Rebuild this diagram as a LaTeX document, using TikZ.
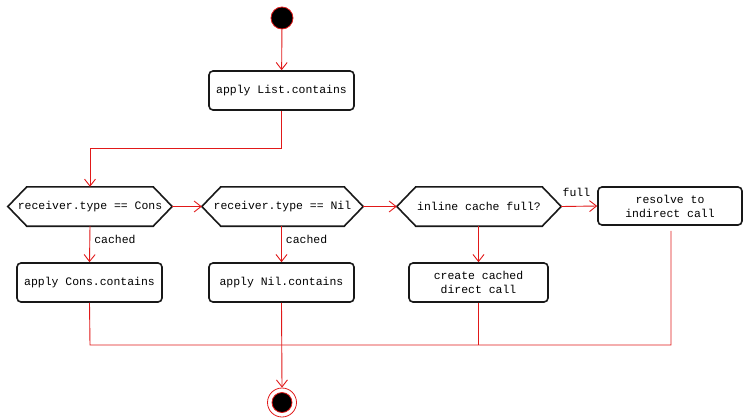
\documentclass[tikz,border=0pt]{standalone}
\usepackage{fontspec}
\setmonofont{Liberation Mono}
\usetikzlibrary{arrows.meta}
\definecolor{lnred}{RGB}{225,25,25}
\definecolor{boxline}{RGB}{24,24,24}
\tikzset{
  every node/.style={font=\ttfamily\fontsize{11.5}{14}\selectfont, text=black},
  actbox/.style={draw=boxline, line width=1.6bp, rounded corners=4bp, fill=white,
    inner sep=0pt, align=center},
  hexlbl/.style={inner sep=0pt, align=center},
  hexline/.style={draw=boxline, line width=1.6bp, fill=white},
  conn/.style={draw=lnred, line width=0.9bp},
  arr/.style={conn, -{Straight Barb[length=7bp,width=11bp,line width=0.9bp]}},
  lbl/.style={inner sep=0pt}
}
\begin{document}
\begin{tikzpicture}[x=1bp,y=-1bp]
\useasboundingbox (0,0) rectangle (746,417);

% start
\node[circle, fill=black, draw=lnred, line width=0.8bp, minimum size=22bp, inner sep=0pt] (start) at (282,18) {};

% boxes
\node[actbox, minimum width=145bp, minimum height=39bp] (list) at (281.5,90.5) {apply List.contains};
\node[actbox, minimum width=145bp, minimum height=39bp] (cons) at (89.5,282.5) {apply Cons.contains};
\node[actbox, minimum width=145bp, minimum height=39bp] (nil) at (281.5,282.5) {apply Nil.contains};
\node[actbox, minimum width=139bp, minimum height=39bp] (create) at (478.5,282.5) {create cached\\direct call};
\node[actbox, minimum width=144bp, minimum height=38bp] (resolve) at (670,206) {resolve to\\indirect call};

% hexagons
\node[hexlbl, minimum width=164bp, minimum height=39bp] (h1) at (90,206.5) {};
\node[hexlbl, minimum width=161bp, minimum height=39bp] (h2) at (282.5,206.5) {};
\node[hexlbl, minimum width=164bp, minimum height=39bp] (h3) at (479,206.5) {};
\foreach \h in {h1,h2,h3}{
  \draw[hexline] (\h.west) -- ([xshift=19bp]\h.north west) -- ([xshift=-19bp]\h.north east)
    -- (\h.east) -- ([xshift=-19bp]\h.south east) -- ([xshift=19bp]\h.south west) -- cycle;
}
\node[hexlbl] at (h1) {receiver.type == Cons};
\node[hexlbl] at (h2) {receiver.type == Nil};
\node[hexlbl] at (h3) {inline cache full?};

% end
\node[circle, draw=lnred, line width=0.8bp, fill=white, minimum size=29bp, inner sep=0pt] (stop) at (282,402.5) {};
\node[circle, fill=black, draw=lnred, line width=0.8bp, minimum size=20bp, inner sep=0pt] (stopin) at (stop) {};

% connectors
\coordinate (bend1) at (281.5,148);
\coordinate (bend2) at (90,148);
\draw[arr] (start) -- (list);
\draw[arr] (list.south) -- (bend1) -- (bend2) -- (h1.north);
\draw[arr] (h1.east) -- (h2.west);
\draw[arr] (h2.east) -- (h3.west);
\draw[arr] (h3.east) -- node[lbl, pos=0, anchor=south west, xshift=1bp, yshift=9bp] {full} (resolve.west);
\draw[arr] (h1.south) -- node[lbl, anchor=west, xshift=4bp, pos=0.37] {cached} (cons.north);
\draw[arr] ([xshift=-1bp]h2.south) -- node[lbl, anchor=west, xshift=4bp, pos=0.37] {cached} (nil.north);
\draw[arr] ([xshift=-0.5bp]h3.south) -- (create.north);

\coordinate (mL) at (90,345);
\coordinate (mR) at (671,345);
\draw[conn] (cons.south) -- (mL) -- (mR) -- ([yshift=-5bp]resolve.south -| mR);
\draw[conn] (create.south) -- (create.south |- mL);
\draw[arr] (nil.south) -- (stop.north);
\end{tikzpicture}
\end{document}
